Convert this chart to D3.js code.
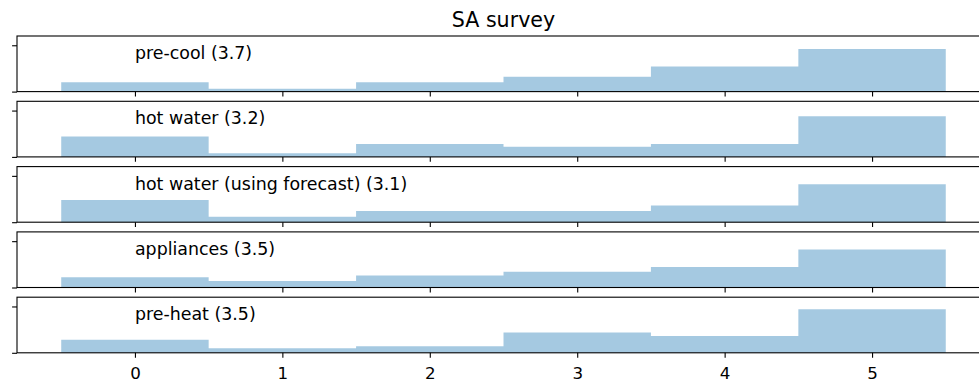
<!DOCTYPE html>
<html>
<head>
<meta charset="utf-8">
<script src="https://cdn.jsdelivr.net/npm/d3@7"></script>
<style>
  body { margin: 0; background: #fff; overflow: hidden; }
  svg { display: block; font-family: "DejaVu Sans", sans-serif; }
</style>
</head>
<body>
<div class="chart"></div>
<script>
// answers on a 0..5 scale, counts per answer
var answers = [0, 1, 2, 3, 4, 5];
var labels = ["pre-cool (3.7)", "hot water (3.2)", "hot water (using forecast) (3.1)", "appliances (3.5)", "pre-heat (3.5)"];
var preCool = [10, 3, 10, 16, 27, 46];
var hotWater = [22, 4, 14, 11, 14, 44];
var hotWaterForecast = [24, 6, 12, 12, 18, 41];
var appliances = [11, 7, 13, 17, 22, 41];
var preHeat = [14, 5, 7, 22, 18, 47];
var yTicks = [0, 50];
var title = "SA survey";

var series = [preCool, hotWater, hotWaterForecast, appliances, preHeat];

var w = 979, h = 381;
var left = 17, right = 990;
var top0 = 36, step = 65.3, ph = 55.6;

var svg = d3.select(".chart").append("svg")
  .attr("width", w)
  .attr("height", h);

var x = d3.scaleLinear().domain([-0.8, 5.8]).range([left, right]);

svg.append("text")
  .attr("x", (left + right) / 2)
  .attr("y", 27.3)
  .attr("text-anchor", "middle")
  .attr("font-size", "20.6px")
  .attr("fill", "#000")
  .text(title);

series.forEach(function(vals, i) {
  var top = top0 + i * step;
  var y = d3.scaleLinear().domain([0, 60]).range([top + ph, top]);
  var g = svg.append("g");

  // step-filled histogram: edges at -0.5 .. 5.5
  var pts = answers.map(function(a, j) { return {x: a - 0.5, v: vals[j]}; });
  pts.push({x: answers[answers.length - 1] + 0.5, v: vals[vals.length - 1]});
  var area = d3.area()
    .x(function(d) { return x(d.x); })
    .y0(y(0))
    .y1(function(d) { return y(d.v); })
    .curve(d3.curveStepAfter);
  g.append("path")
    .datum(pts)
    .attr("d", area)
    .attr("fill", "#1f77b4")
    .attr("fill-opacity", 0.4);

  g.append("text")
    .attr("x", x(0))
    .attr("y", y(35))
    .attr("font-size", "17.4px")
    .attr("fill", "#000")
    .text(labels[i]);

  // x ticks on every panel, labels only on the last
  var xa = g.append("g")
    .attr("transform", "translate(0," + (top + ph) + ")")
    .call(d3.axisBottom(x).tickValues(answers).tickSize(4.9).tickSizeOuter(0)
      .tickFormat(i == series.length - 1 ? d3.format("d") : ""));
  xa.select(".domain").remove();
  xa.selectAll("line").attr("stroke", "#000").attr("stroke-width", 1.1);
  xa.selectAll("text").attr("font-size", "16.7px").attr("fill", "#000")
    .attr("font-family", "DejaVu Sans").attr("y", 26.3).attr("dy", null);

  var ya = g.append("g")
    .attr("transform", "translate(" + left + ",0)")
    .call(d3.axisLeft(y).tickValues(yTicks).tickSize(4.9).tickSizeOuter(0).tickFormat(""));
  ya.select(".domain").remove();
  ya.selectAll("line").attr("stroke", "#000").attr("stroke-width", 1.1);

  g.append("rect")
    .attr("x", left)
    .attr("y", top)
    .attr("width", right - left)
    .attr("height", ph)
    .attr("fill", "none")
    .attr("stroke", "#000")
    .attr("stroke-width", 1.1);
});
</script>
</body>
</html>
